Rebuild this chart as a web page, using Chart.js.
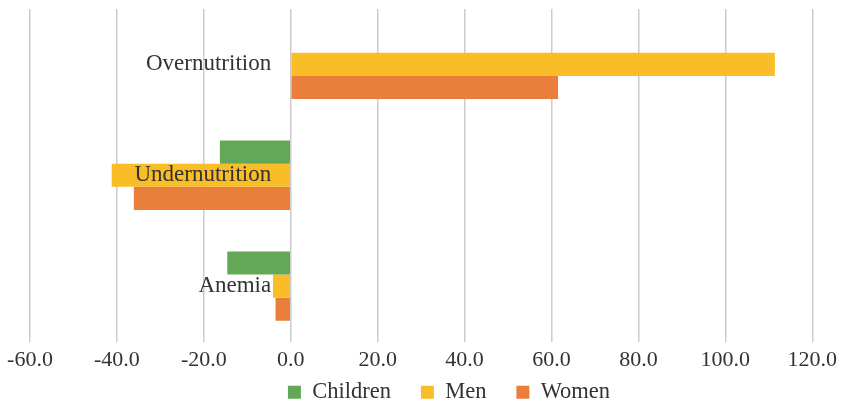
<!DOCTYPE html>
<html>
<head>
<meta charset="utf-8">
<script src="https://cdn.jsdelivr.net/npm/chart.js@4/dist/chart.umd.min.js"></script>
<style>
  html, body { margin: 0; padding: 0; background: #fff; }
  #wrap { width: 844px; height: 402px; }
</style>
</head>
<body>
<div id="wrap"><canvas id="chart"></canvas></div>
<script>
// ========= DATA =========
const categories = ['Overnutrition', 'Undernutrition', 'Anemia'];
const seriesNames = ['Children', 'Men', 'Women'];
const children = [null, -16.3, -14.6];
const men      = [111.4, -41.2, -4.1];
const women    = [61.5, -36.1, -3.5];
const xMin = -60, xMax = 120, xStep = 20;

const colors = ['#62a856', '#f9bd28', '#ea7f3b'];
const FONT = "'Liberation Serif', 'Times New Roman', serif";
const INK = '#333333';

// ========= LEGEND ROW =========
// labels.padding sets the gap between items but also pads the top of the box,
// so keep the box one row tall and pull its top edge up after layout
// (the legend clips to its own box, so the bottom stays where it is)
const LEGEND_H = 22.6;
const LEGEND_LIFT = 28.4;
const LEGEND_SHIFT_X = 27.5;
const legendRow = {
    id: 'legendRow',
    beforeLayout(chart){
        const lg = chart.legend;
        if(!lg || lg._rowFit) return;
        const fit = lg.fit;
        lg.fit = function(){ fit.call(this); this.height = LEGEND_H; };
        lg._rowFit = true;
    },
    afterLayout(chart){
        const lg = chart.legend;
        if(!lg) return;
        lg.top -= LEGEND_LIFT;
        lg.left += LEGEND_SHIFT_X; lg.right += LEGEND_SHIFT_X;
    }
};

// ========= CHART =========
const ctx = document.getElementById('chart').getContext('2d');
new Chart(ctx, {
    type: 'bar',
    data: {
        labels: categories,
        datasets: [children, men, women].map((d, i) => ({
            label: seriesNames[i],
            data: d,
            backgroundColor: colors[i],
            borderWidth: 0,
            categoryPercentage: 0.625,
            barPercentage: 1.0
        }))
    },
    options: {
        indexAxis: 'y',
        responsive: true,
        maintainAspectRatio: false,
        animation: false,
        layout: { padding: { left: 30, right: 31, top: 9, bottom: 0 } },
        plugins: {
            legend: {
                position: 'bottom',
                labels: {
                    boxWidth: 13,
                    boxHeight: 13,
                    padding: 30,
                    color: INK,
                    font: { family: FONT, size: 22.5 }
                }
            },
            tooltip: { enabled: false }
        },
        scales: {
            x: {
                type: 'linear',
                min: xMin,
                max: xMax,
                ticks: {
                    stepSize: xStep,
                    padding: 7,
                    color: INK,
                    font: { family: FONT, size: 22, lineHeight: 1.086 },
                    callback: v => v.toFixed(1)
                },
                grid: { color: '#cccccc', lineWidth: 1.5, drawTicks: false },
                border: { display: false }
            },
            y: {
                type: 'category',
                position: { x: -4.5 },   // names sit just left of the zero line
                ticks: {
                    padding: 0,
                    z: 1,                // names drawn over the bars
                    color: INK,
                    font: { family: FONT, size: 23, lineHeight: 0.75 }
                },
                grid: { display: false, drawTicks: false },
                border: { display: false }
            }
        }
    },
    plugins: [legendRow]
});
</script>
</body>
</html>
